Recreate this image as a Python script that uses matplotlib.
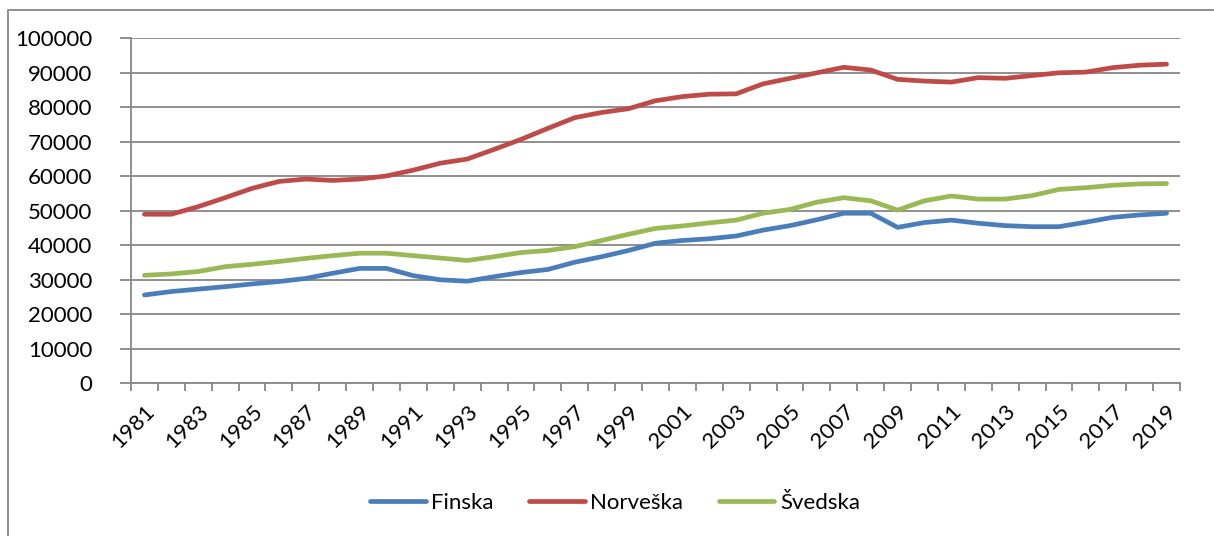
import numpy as np
import matplotlib
matplotlib.use("Agg")
import matplotlib.pyplot as plt
from matplotlib.lines import Line2D

# =========================
# Data
# =========================
years = list(range(1981, 2020))

finska = [25600, 26600, 27300, 28000, 28800, 29500, 30400, 31900, 33300, 33300,
          31200, 30000, 29600, 30900, 32100, 33000, 35100, 36700, 38500, 40600,
          41400, 41900, 42700, 44400, 45700, 47400, 49300, 49300, 45200, 46600,
          47300, 46400, 45700, 45400, 45400, 46700, 48100, 48800, 49300]

norveska = [49000, 49000, 51200, 53800, 56500, 58500, 59200, 58800, 59200, 60100,
            61800, 63800, 65000, 67800, 70700, 73900, 77000, 78500, 79600, 81900,
            83100, 83800, 83900, 86800, 88400, 90000, 91600, 90800, 88100, 87600,
            87300, 88600, 88400, 89200, 90000, 90200, 91500, 92200, 92500]

svedska = [31300, 31700, 32400, 33800, 34500, 35300, 36200, 37000, 37700, 37700,
           37000, 36300, 35600, 36700, 37900, 38500, 39600, 41400, 43200, 44900,
           45600, 46500, 47300, 49300, 50400, 52500, 53800, 52900, 50200, 52900,
           54300, 53400, 53400, 54400, 56200, 56700, 57400, 57800, 57900]

series_names = ["Finska", "Norveška", "Švedska"]
series_colors = ["#4A7EBB", "#BE4B48", "#98B954"]

# =========================
# Figure
# =========================
plt.rcParams['font.family'] = ['Lato', 'DejaVu Sans']

fig = plt.figure(figsize=(12.14, 5.36), dpi=100)
ax = fig.add_axes([131 / 1214, 1 - 383.3 / 536, (1180 - 131) / 1214, (383.3 - 38.3) / 536])

grid_col = "#878787"
x = np.arange(len(years))

for vals, name, col in zip([finska, norveska, svedska], series_names, series_colors):
    ax.plot(x, vals, color=col, lw=3.4, solid_capstyle="round", solid_joinstyle="round", label=name, zorder=3)

ax.set_xlim(-0.5, len(years) - 0.5)
ax.set_ylim(0, 100000)
ax.set_yticks(np.arange(0, 100001, 10000))
ax.set_yticklabels([str(v) for v in range(0, 100001, 10000)], fontsize=16)
ax.yaxis.grid(True, color=grid_col, lw=1.3)
ax.set_axisbelow(True)

# year labels every other year, tick marks at category edges
ax.set_xticks(x[::2])
ax.set_xticklabels([str(y) for y in years[::2]], rotation=45, ha="right",
                   rotation_mode="anchor", fontsize=16)
ax.set_xticks(np.arange(-0.5, len(years)), minor=True)
ax.tick_params(axis="x", which="major", length=0, pad=13)
ax.tick_params(axis="x", which="minor", length=6, width=1.3, color=grid_col)
ax.tick_params(axis="y", length=8, width=1.3, color=grid_col, pad=20)

for side in ["top", "right"]:
    ax.spines[side].set_visible(False)
for side in ["left", "bottom"]:
    ax.spines[side].set_color(grid_col)
    ax.spines[side].set_linewidth(1.3)

leg = fig.legend(loc="center", bbox_to_anchor=(615 / 1214, 1 - 503 / 536), ncol=3,
                 frameon=False, fontsize=16, handlelength=2.5, handletextpad=0.25,
                 columnspacing=1.6)

# chart area border (left and top visible)
fig.add_artist(Line2D([8 / 1214, 8 / 1214, 1.0], [0.0, 1 - 10 / 536, 1 - 10 / 536],
                      transform=fig.transFigure, color="#878787", lw=1.3))

fig.savefig("out.png", dpi=100)
